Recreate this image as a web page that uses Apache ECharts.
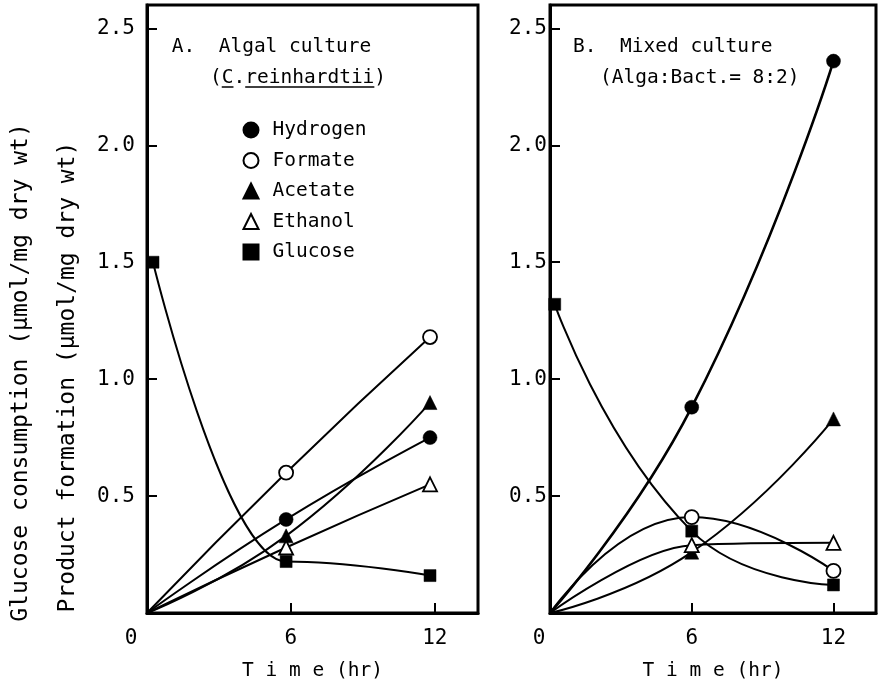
<!DOCTYPE html>
<html>
<head>
<meta charset="utf-8">
<script src="https://cdn.jsdelivr.net/npm/echarts@6/dist/echarts.min.js"></script>
<style>
  html, body { margin: 0; padding: 0; background: #fff; }
  #chart { width: 878px; height: 691px; }
</style>
</head>
<body>
<div id="chart"></div>
<script>
// Sampling times (hr)
const timesA = [0, 5.8, 11.8];
const glucoseTimesA = [0.25, 5.8, 11.8];
const timesB = [0, 6, 12];
const glucoseTimesB = [0.2, 6, 12];

// A. Algal culture (C. reinhardtii) — umol/mg dry wt
const hydrogenA = [0, 0.40, 0.75];
const formateA  = [0, 0.60, 1.18];
const acetateA  = [0, 0.33, 0.90];
const ethanolA  = [0, 0.28, 0.55];
const glucoseA  = [1.50, 0.22, 0.16];

// B. Mixed culture (Alga:Bact. = 8:2) — umol/mg dry wt
const hydrogenB = [0, 0.88, 2.36];
const formateB  = [0, 0.41, 0.18];
const acetateB  = [0, 0.26, 0.83];
const ethanolB  = [0, 0.29, 0.30];
const glucoseB  = [1.32, 0.35, 0.12];

// Labelled ticks
const xTickValues = [0, 6, 12];
const yTickValues = [0.5, 1.0, 1.5, 2.0, 2.5];
const legendNames = ['Hydrogen', 'Formate', 'Acetate', 'Ethanol', 'Glucose'];

const FONT = "'DejaVu Sans Mono', monospace";

const markers = {
  Hydrogen: { symbol: 'circle',   size: 14, fill: '#000', icon: 'circle' },
  Formate:  { symbol: 'circle',   size: 14, fill: '#fff', icon: 'circle' },
  Acetate:  { symbol: 'triangle', size: 14, fill: '#000', icon: 'triangle' },
  Ethanol:  { symbol: 'triangle', size: 14, fill: '#fff', icon: 'triangle' },
  Glucose:  { symbol: 'rect',     size: 12, fill: '#000', icon: 'rect' }
};

function lineSeries(name, xs, ys, idx, extra) {
  const m = markers[name];
  const data = xs.map((t, i) =>
    (t === 0 && ys[i] === 0) ? { value: [t, ys[i]], symbol: 'none' } : [t, ys[i]]);
  return Object.assign({
    name: name,
    type: 'line',
    xAxisIndex: idx,
    yAxisIndex: idx,
    data: data,
    symbol: m.symbol,
    symbolSize: m.size,
    showAllSymbol: true,
    smooth: 0.5,
    lineStyle: { color: '#000', width: 2 },
    itemStyle: { color: m.fill, borderColor: '#000', borderWidth: m.fill === '#fff' ? 1.8 : 0.5 },
    emphasis: { disabled: true },
    z: 3
  }, extra || {});
}

function xAxisFor(idx, zeroShift) {
  return {
    gridIndex: idx, type: 'value', min: 0, max: 13.8, interval: 6,
    axisLine: { onZero: false, lineStyle: { color: '#000', width: 3 } },
    axisTick: { inside: true, length: 10, lineStyle: { color: '#000', width: 2 } },
    splitLine: { show: false },
    axisLabel: {
      color: '#000', fontFamily: FONT, fontSize: 21, margin: 15,
      formatter: v => xTickValues.indexOf(v) < 0 ? '' : (v === 0 ? '{z|0}' : String(v)),
      rich: { z: { color: '#000', fontFamily: FONT, fontSize: 21, padding: [0, zeroShift * 2, 0, 0] } }
    },
    name: 'T i m e (hr)', nameLocation: 'middle', nameGap: 48,
    nameTextStyle: { color: '#000', fontFamily: FONT, fontSize: 19.5 }
  };
}

function yAxisFor(idx, margin) {
  return {
    gridIndex: idx, type: 'value', min: 0, max: 2.6, interval: 0.5,
    axisLine: { onZero: false, lineStyle: { color: '#000', width: 3 } },
    axisTick: { inside: true, length: 10, lineStyle: { color: '#000', width: 2 } },
    splitLine: { show: false },
    axisLabel: {
      color: '#000', fontFamily: FONT, fontSize: 21, margin: margin,
      formatter: v => yTickValues.some(t => Math.abs(t - v) < 1e-6) ? v.toFixed(1) : ''
    }
  };
}

const textItem = (text, x, y, size) => ({
  type: 'text', x: x, y: y, silent: true,
  style: { text: text, font: size + 'px ' + FONT, fill: '#000', align: 'left', verticalAlign: 'middle' }
});

const cw = 19.5 * 0.602; // monospace advance at 19.5px
const subX = 210;

const option = {
  backgroundColor: '#fff',
  animation: false,
  grid: [
    { left: 147, top: 5, width: 331, height: 608, show: true, borderColor: '#000', borderWidth: 3,
      backgroundColor: 'transparent', containLabel: false, outerBoundsMode: 'none' },
    { left: 550, top: 5, width: 326, height: 608, show: true, borderColor: '#000', borderWidth: 3,
      backgroundColor: 'transparent', containLabel: false, outerBoundsMode: 'none' }
  ],
  xAxis: [xAxisFor(0, 16), xAxisFor(1, 11)],
  yAxis: [yAxisFor(0, 12), yAxisFor(1, 3)],
  legend: {
    orient: 'vertical', left: 237.5, top: 115,
    itemWidth: 15, itemHeight: 15, itemGap: 10.5,
    symbolKeepAspect: true,
    selectedMode: false,
    textStyle: { color: '#000', fontFamily: FONT, fontSize: 19.5, padding: [0, 0, 0, 9] },
    data: legendNames.map(n => ({ name: n, icon: markers[n].icon }))
  },
  series: [
    lineSeries('Formate',  timesA, formateA, 0),
    lineSeries('Hydrogen', timesA, hydrogenA, 0),
    lineSeries('Acetate',  timesA, acetateA, 0),
    lineSeries('Ethanol',  timesA, ethanolA, 0),
    lineSeries('Glucose',  glucoseTimesA, glucoseA, 0, { smooth: 0.45, smoothMonotone: 'x' }),

    lineSeries('Hydrogen', timesB, hydrogenB, 1, { lineStyle: { color: '#000', width: 2.6 } }),
    lineSeries('Formate',  timesB, formateB, 1),
    lineSeries('Acetate',  timesB, acetateB, 1),
    lineSeries('Ethanol',  timesB, ethanolB, 1, { smooth: 0.35 }),
    lineSeries('Glucose',  glucoseTimesB, glucoseB, 1)
  ],
  graphic: [
    textItem('A.  Algal culture', 171.7, 47, 19.5),
    textItem('(C.reinhardtii)', subX, 78, 19.5),
    { type: 'line', silent: true, shape: { x1: subX + cw, y1: 87, x2: subX + 2 * cw, y2: 87 },
      style: { stroke: '#000', lineWidth: 1.5 } },
    { type: 'line', silent: true, shape: { x1: subX + 3 * cw, y1: 87, x2: subX + 14 * cw, y2: 87 },
      style: { stroke: '#000', lineWidth: 1.5 } },
    textItem('B.  Mixed culture', 573, 47, 19.5),
    textItem('(Alga:Bact.= 8:2)', 600, 78, 19.5),
    { type: 'text', x: 21.5, y: 372.5, rotation: Math.PI / 2, silent: true,
      style: { text: 'Glucose consumption (\u03bcmol/mg dry wt)', font: '23px ' + FONT, fill: '#000',
               align: 'center', verticalAlign: 'middle' } },
    { type: 'text', x: 68.5, y: 377, rotation: Math.PI / 2, silent: true,
      style: { text: 'Product formation (\u03bcmol/mg dry wt)', font: '23px ' + FONT, fill: '#000',
               align: 'center', verticalAlign: 'middle' } }
  ]
};

const chart = echarts.init(document.getElementById('chart'), null, { renderer: 'canvas' });
chart.setOption(option);
</script>
</body>
</html>
